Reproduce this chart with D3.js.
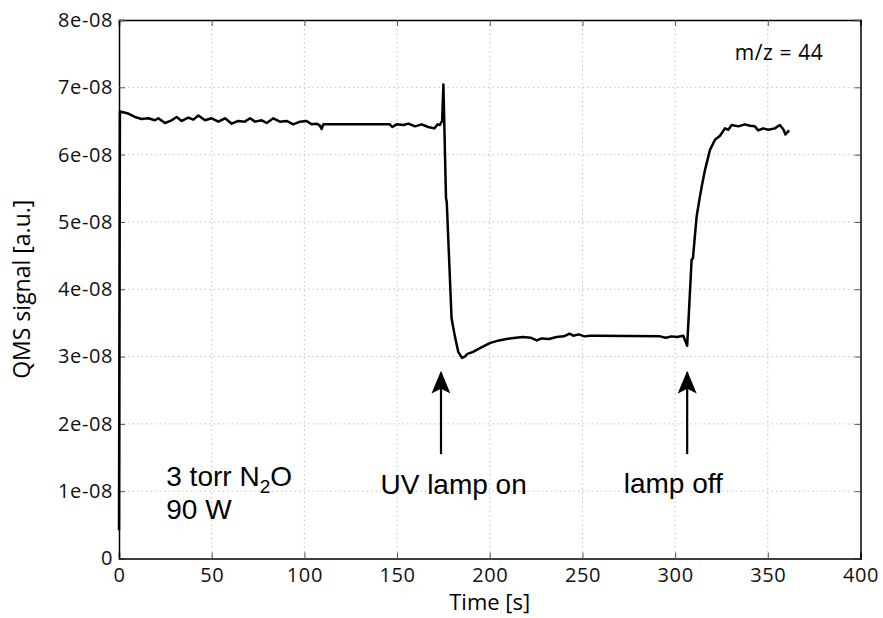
<!DOCTYPE html>
<html>
<head>
<meta charset="utf-8">
<script src="https://cdn.jsdelivr.net/npm/d3@7"></script>
<style>
body { margin: 0; background: #fff; }
svg { display: block; }
</style>
</head>
<body>
<svg id="chart"></svg>
<script>
// signal trace
var times = [0, 0.5, 5, 8.6, 12.2, 15.8, 19.4, 21.2, 24.8, 28.4, 31.1, 33.8, 37.4, 40.1, 42.8, 46.4, 50,
  53.6, 57.2, 60.8, 64.3, 67.9, 70.7, 73.4, 77, 79.7, 83.2, 86.8, 90.4, 94, 97.6, 101.2, 103.9, 106.6,
  108.4, 109.3, 110.2, 146.1, 147.4, 149.8, 153.4, 156.1, 159.7, 163.3, 166.8, 170.1, 171.9, 173.1, 174.3,
  175, 176.4, 176.8, 179.4, 181.2, 183, 185, 186.5, 188, 191, 195, 200, 205, 209, 214, 218, 222, 225.3,
  228, 232, 236, 240, 243, 245, 248, 251, 254, 257.7, 291.8, 295, 298, 301, 304.4, 306.5, 308.9, 309.6,
  311.6, 313.4, 314.3, 316.1, 318.8, 321.5, 324.2, 326.9, 328.7, 330.5, 334.1, 337.7, 340.4, 343, 344.8,
  347.5, 350.2, 353.8, 356.5, 358.5, 359.5, 361.5];
var signal = [0.42, 6.64, 6.61, 6.56, 6.53, 6.54, 6.51, 6.54, 6.47, 6.51, 6.56, 6.50, 6.55, 6.52, 6.58, 6.51, 6.54,
  6.49, 6.54, 6.46, 6.50, 6.49, 6.54, 6.49, 6.51, 6.47, 6.54, 6.49, 6.50, 6.45, 6.49, 6.50, 6.45, 6.46,
  6.43, 6.38, 6.45, 6.45, 6.41, 6.45, 6.44, 6.46, 6.42, 6.45, 6.41, 6.39, 6.45, 6.44, 6.50,
  7.04, 5.35, 5.30, 3.57, 3.30, 3.07, 2.98, 3.00, 3.04, 3.07, 3.13, 3.20, 3.24, 3.26, 3.28, 3.29, 3.28, 3.24,
  3.27, 3.26, 3.29, 3.30, 3.34, 3.31, 3.33, 3.30, 3.31, 3.31, 3.30, 3.28, 3.30, 3.29, 3.31, 3.16, 4.44, 4.46,
  5.08, 5.38, 5.52, 5.77, 6.07, 6.22, 6.28, 6.39, 6.37, 6.44, 6.42, 6.45, 6.43, 6.42, 6.36,
  6.39, 6.37, 6.39, 6.44, 6.37, 6.30, 6.36]; // units of 1e-08

var xTicks = [0, 50, 100, 150, 200, 250, 300, 350, 400];
var yTicks = [0, 1, 2, 3, 4, 5, 6, 7, 8];
var yTickLabels = ["0", "1e-08", "2e-08", "3e-08", "4e-08", "5e-08", "6e-08", "7e-08", "8e-08"];

// arrows: time, bottom and tip of the shaft
var arrows = [
  {t: 173.7, from: 1.55, to: 2.76},
  {t: 306.5, from: 1.55, to: 2.76}
];

var screen = {width: 883, height: 618};
var margins = {left: 119, right: 22.5, top: 20, bottom: 59.5};
var graph = {
  width: screen.width - margins.left - margins.right,
  height: screen.height - margins.top - margins.bottom
};

var svg = d3.select("#chart")
  .attr("width", screen.width)
  .attr("height", screen.height);

var target = svg.append("g")
  .attr("transform", "translate(" + margins.left + "," + margins.top + ")");

var xScale = d3.scaleLinear().domain([0, 400]).range([0, graph.width]);
var yScale = d3.scaleLinear().domain([0, 8]).range([graph.height, 0]);

// grid
target.append("g").selectAll("line")
  .data(xTicks.slice(1, -1))
  .enter().append("line")
  .attr("x1", d => xScale(d)).attr("x2", d => xScale(d))
  .attr("y1", 0).attr("y2", graph.height)
  .attr("stroke", "#c4c4c4").attr("stroke-width", 1)
  .attr("stroke-dasharray", "1.5,3");
target.append("g").selectAll("line")
  .data(yTicks.slice(1, -1))
  .enter().append("line")
  .attr("y1", d => yScale(d)).attr("y2", d => yScale(d))
  .attr("x1", 0).attr("x2", graph.width)
  .attr("stroke", "#c4c4c4").attr("stroke-width", 1)
  .attr("stroke-dasharray", "1.5,3");

var tickFont = "'Open Sans', sans-serif";

var xAxis = target.append("g")
  .attr("transform", "translate(0," + graph.height + ")")
  .call(d3.axisBottom(xScale).tickValues(xTicks).tickSize(-6).tickPadding(8).tickFormat(d3.format("d")));
var xTop = target.append("g")
  .call(d3.axisTop(xScale).tickValues(xTicks).tickSize(-6).tickFormat(""));
var yAxis = target.append("g")
  .call(d3.axisLeft(yScale).tickValues(yTicks).tickSize(-6).tickPadding(6)
    .tickFormat((d, i) => yTickLabels[i]));
var yRight = target.append("g")
  .attr("transform", "translate(" + graph.width + ",0)")
  .call(d3.axisRight(yScale).tickValues(yTicks).tickSize(-6).tickFormat(""));

[xAxis, xTop, yAxis, yRight].forEach(function(a) {
  a.select(".domain").attr("stroke", "#000").attr("stroke-width", 1.5);
  a.selectAll(".tick line").attr("stroke", "#555").attr("stroke-width", 1);
  a.selectAll("text").attr("font-family", tickFont).attr("font-size", 20)
    .attr("letter-spacing", "0.6px").attr("fill", "#111");
});
xAxis.selectAll("text").attr("dy", "0.75em");

// data line
var line = d3.line()
  .x((d, i) => xScale(times[i]))
  .y(d => yScale(d));

target.append("path")
  .datum(signal)
  .attr("d", line)
  .attr("fill", "none")
  .attr("stroke", "#000")
  .attr("stroke-width", 2.5)
  .attr("stroke-linejoin", "round");

// arrows
svg.append("defs").append("marker")
  .attr("id", "head")
  .attr("viewBox", "0 0 10 12")
  .attr("refX", 5).attr("refY", 1)
  .attr("markerWidth", 19).attr("markerHeight", 23)
  .attr("markerUnits", "userSpaceOnUse")
  .attr("orient", "0")
  .append("path")
  .attr("d", "M5,0 L10,12 L5,9.5 L0,12 Z")
  .attr("fill", "#000");

target.selectAll(".arrow")
  .data(arrows)
  .enter().append("line")
  .attr("x1", d => xScale(d.t)).attr("x2", d => xScale(d.t))
  .attr("y1", d => yScale(d.from)).attr("y2", d => yScale(d.to))
  .attr("stroke", "#000").attr("stroke-width", 2.2)
  .attr("marker-end", "url(#head)");

// text annotations
var annoFont = "'Liberation Sans', Arial, sans-serif";
function anno(txt, t, v, anchor) {
  return target.append("text")
    .attr("x", xScale(t)).attr("y", yScale(v))
    .attr("text-anchor", anchor || "start")
    .attr("font-family", annoFont).attr("font-size", 28)
    .attr("fill", "#000")
    .text(txt);
}
var t1 = anno("3 torr N", 25.5, 1.07);
t1.append("tspan").attr("font-size", 19).attr("dy", 7).text("2");
t1.append("tspan").attr("dy", -7).text("O");
anno("90 W", 25.5, 0.58);
anno("UV lamp on", 180.5, 0.96, "middle");
anno("lamp off", 299, 0.98, "middle");

target.append("text")
  .attr("x", xScale(380)).attr("y", yScale(7.4))
  .attr("text-anchor", "end")
  .attr("font-family", tickFont).attr("font-size", 21)
  .attr("letter-spacing", "0.6px")
  .text("m/z = 44");

// axis titles
svg.append("text")
  .attr("x", margins.left + xScale(200)).attr("y", 610)
  .attr("text-anchor", "middle")
  .attr("font-family", tickFont).attr("font-size", 22)
  .text("Time [s]");
svg.append("text")
  .attr("transform", "translate(30," + (margins.top + yScale(4)) + ") rotate(-90)")
  .attr("text-anchor", "middle")
  .attr("font-family", tickFont).attr("font-size", 23)
  .text("QMS signal [a.u.]");
</script>
</body>
</html>
